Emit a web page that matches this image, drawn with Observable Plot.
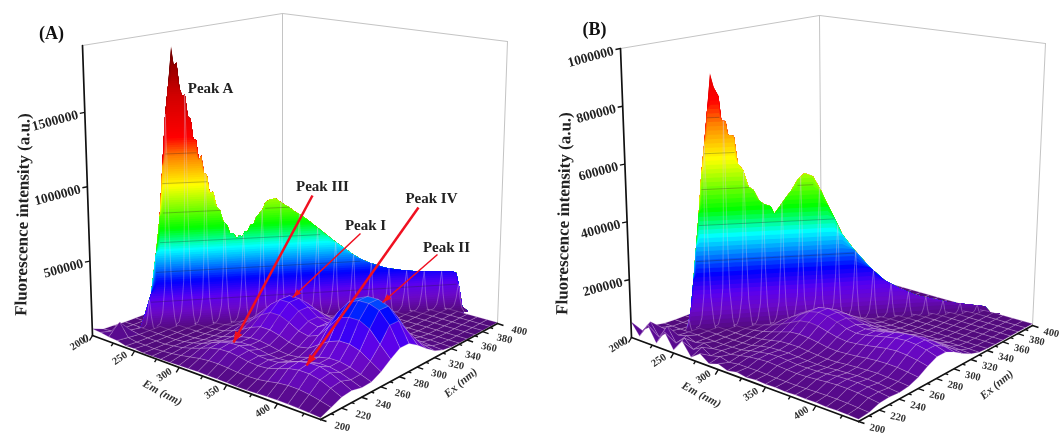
<!DOCTYPE html>
<html><head><meta charset="utf-8">
<script src="https://cdn.jsdelivr.net/npm/d3@7"></script>
<script src="https://cdn.jsdelivr.net/npm/@observablehq/plot@0.6"></script>
<style>html,body{margin:0;padding:0;background:#fff}svg{display:block;filter:blur(.5px)}</style>
</head><body><div id="chart"></div>
<script>
const emGrid=[200,210,220,230,240,250,260,270,280,290,300,310,320,330,340,350,360,370,380,390,400,410,420,430,440];
const exGrid=[200,210,220,230,240,250,260,270,280,290,300,310,320,330,340,350,360,370,380,390,400];
// floor / hump heights in thousands, one row per Ex, one column per Em
const floorA=[
[45,40,30,26,12,14,8,8,9,10,12,14,16,15,14,13,12,13,15,18,20,20,18,15,10],
[16,22,100,18,8,8,6,10,16,25,36,48,55,56,52,46,44,47,57,69,76,75,67,53,37],
[14,10,20,10,7,7,7,15,25,42,63,86,99,102,94,82,78,84,104,126,138,137,122,95,65],
[8,8,8,8,7,7,8,15,27,45,69,94,109,112,103,89,85,91,114,138,152,151,134,105,72],
[8,8,8,8,8,7,8,11,20,35,53,72,85,87,79,67,64,68,87,107,118,118,105,82,57],
[8,8,8,8,8,8,8,11,18,32,51,72,86,86,77,63,57,64,83,106,121,121,108,85,61],
[7,7,7,7,7,7,8,12,22,43,72,106,129,129,112,89,79,92,135,175,200,200,178,135,92],
[7,7,7,7,7,7,7,16,30,62,108,161,196,196,169,133,120,145,220,300,320,320,285,210,140],
[6,6,6,6,6,6,6,6,36,77,137,205,255,255,216,169,152,190,290,370,400,400,375,300,179],
[6,6,6,6,6,6,6,6,8,77,137,205,255,255,216,169,152,190,290,370,400,400,375,300,179],
[6,6,6,6,6,6,6,6,6,6,107,160,195,195,168,132,120,145,220,300,320,320,285,210,139],
[6,6,6,6,6,6,6,6,6,6,6,100,122,122,105,83,76,90,128,165,190,190,170,128,88],
[6,6,6,6,6,6,6,6,6,6,6,6,61,61,54,43,38,43,57,74,86,86,77,61,45],
[6,6,6,6,6,6,6,6,6,6,6,6,6,26,23,19,18,19,25,31,35,35,32,26,20],
[6,6,6,6,6,6,6,6,6,6,6,6,6,6,12,11,10,11,13,15,17,17,16,13,11],
[6,6,6,6,6,6,6,6,6,6,6,6,6,6,6,8,8,8,8,9,9,9,9,8,8],
[6,6,6,6,6,6,6,6,6,6,6,6,6,6,6,6,7,7,7,7,7,7,7,7,7],
[6,6,6,6,6,6,6,6,6,6,6,6,6,6,6,6,6,7,7,7,7,7,7,7,7],
[6,6,6,6,6,6,6,6,6,6,6,6,6,6,6,6,6,6,7,7,7,7,7,7,7],
[6,6,6,6,6,6,6,6,6,6,6,6,6,6,6,6,6,6,6,7,7,7,7,7,7],
[6,6,6,6,6,6,6,6,6,6,6,6,6,6,6,6,6,6,6,6,7,7,7,7,7]];
const floorB=[
[55,15,65,12,60,10,50,8,30,8,18,7,14,8,11,9,10,8,10,9,10,8,9,8,7],
[10,50,8,55,8,35,8,25,8,16,8,13,13,14,13,12,12,12,13,14,15,15,14,12,10],
[14,16,14,10,18,6,14,6,10,8,15,21,25,27,25,23,22,23,26,29,31,31,29,25,21],
[6,6,6,6,6,5,5,5,6,8,16,22,27,29,27,24,24,25,27,31,33,33,31,27,23],
[5,5,5,5,5,5,5,5,6,8,16,22,24,25,23,21,20,21,24,26,28,28,27,23,20],
[5,5,5,5,5,5,5,6,10,14,21,28,30,30,27,24,22,23,26,28,30,31,29,27,24],
[5,5,5,5,5,5,6,10,16,25,35,45,48,46,41,35,33,35,38,42,45,46,45,41,36],
[5,5,5,5,5,5,5,14,24,38,53,69,74,71,62,54,50,53,58,64,69,72,69,63,55],
[5,5,5,5,5,5,5,5,29,48,67,87,94,90,80,68,63,67,74,82,88,91,88,81,70],
[5,5,5,5,5,5,5,5,5,48,67,87,94,90,80,68,63,67,74,82,88,91,88,81,70],
[5,5,5,5,5,5,5,5,5,5,53,69,74,71,62,54,50,53,58,64,69,72,69,63,55],
[5,5,5,5,5,5,5,5,5,5,5,44,47,45,40,34,32,34,37,41,44,45,44,40,35],
[5,5,5,5,5,5,5,5,5,5,5,5,24,24,21,19,17,18,20,22,23,24,23,21,19],
[5,5,5,5,5,5,5,5,5,5,5,5,5,11,10,9,9,9,10,10,11,11,11,10,9],
[5,5,5,5,5,5,5,5,5,5,5,5,5,5,7,7,7,7,7,7,7,7,7,7,7],
[5,5,5,5,5,5,5,5,5,5,5,5,5,5,5,6,6,6,6,6,6,6,6,6,6],
[5,5,5,5,5,5,5,5,5,5,5,5,5,5,5,5,6,6,6,6,6,6,6,6,6],
[5,5,5,5,5,5,5,5,5,5,5,5,5,5,5,5,5,6,6,6,6,6,6,6,6],
[5,5,5,5,5,5,5,5,5,5,5,5,5,5,5,5,5,5,6,6,6,6,6,6,6],
[5,5,5,5,5,5,5,5,5,5,5,5,5,5,5,5,5,5,5,6,6,6,6,6,6],
[5,5,5,5,5,5,5,5,5,5,5,5,5,5,5,5,5,5,5,5,6,6,6,6,6]];
// scatter wall crest along Em = Ex (nm, thousands)
const wallExA=[225,227,231,234,236.3,238.1,239.9,241.7,243.5,244.7,246.1,247.5,248.8,250.1,251.5,252.9,254.2,255.5,256.9,258.1,259.5,260.9,262.3,264.1,265.9,267.7,269.5,271.3,273,274.7,276.5,277.9,279.3,280.7,282,283.7,285.5,286.9,288.3,290.1,291.8,294.5,297.2,299.5,301.7,304.5,307.1,310.5,314.3,317.5,321.2,325.5,330.5,334.5,339.5,343.5,348.5,353.5,357.5,363.5,368.5,375.5,383.5,391.5,396.5,398.5,400.5,402.5,405.5];
const wallA=[30,100,260,531,780,1120,1460,1667,1930,1800,1820,1640,1590,1600,1450,1430,1290,1290,1150,1180,1060,1050,920,930,826,800,720,700,638,640,602,625,611,650,643,690,698,745,764,790,841,860,864,840,821,800,771,745,709,675,636,590,538,500,451,420,388,365,347,330,319,308,300,296,292,280,176,40,8];
const wallExB=[229,231.1,232.9,234.7,236.5,238.3,240.1,241.9,243.7,245.5,247.8,249,251.2,252.3,255.3,257.1,259.8,262.5,265.2,267.8,270.5,274.1,275.9,278.5,282.2,284.9,288.5,292,296.5,301,304.5,308.2,312.5,318.9,327.9,336.5,345.5,354.5,372.5,394.5,398.5,403.5];
const wallB=[20,82,187,303,419,559,663,780,905,854,824,742,735,688,683,586,562,503,490,454,439,431,404,426,460,482,522,542,530,476,427,379,319,264,197,146,113,87,56,32,5,2];
// mesh loop shape across the wall: Em-Ex offset and share of the crest
const loopOffset=[-14,-10,-7,-4,-2,-1,0,1,2,4,7,10,14];
const loopShare=[0,.02,.07,.2,.5,.8,1,.8,.5,.2,.07,.02,0];
const loopEx=[230,240,250,260,270,280,290,300,310,320,330,340,350,360,370,380,390,400];
const contourA=[200,400,600,800,1000,1200];
const contourB=[250,375,500,625,750];
const colorStops=[0,60,130,220,330,430,545,690,870,980,1180,1310,1600,1950];
const colorRange=["#500a78","#5c0a98","#6a08c8","#5a00f0","#0000ff","#0078ff","#00ffff","#00ff00","#a0ff00","#ffff00","#ff8000","#ff0000","#d00000","#6a0000"];
const zTicksA=[500000,1000000,1500000], zTicksB=[200000,400000,600000,800000,1000000];
const emTicks=[200,250,300,350,400], emMinor=[225,275,325,375,425];
const exTicks=[200,220,240,260,280,300,320,340,360,380,400], exMinor=[210,230,250,270,290,310,330,350,370,390];

function homography([[x0,y0],[x1,y1],[x2,y2],[x3,y3]]){
  const dx1=x1-x2,dx2=x3-x2,sx=x0-x1+x2-x3,dy1=y1-y2,dy2=y3-y2,sy=y0-y1+y2-y3;
  const det=dx1*dy2-dx2*dy1,g=(sx*dy2-dx2*sy)/det,h=(dx1*sy-sx*dy1)/det;
  const a=x1-x0+g*x1,b=x3-x0+h*x3,d=y1-y0+g*y1,e=y3-y0+h*y3;
  return (u,v)=>{const w=g*u+h*v+1;return [(a*u+b*v+x0)/w,(d*u+e*v+y0)/w];};
}
function makePanel(o){
  const H0=homography(o.floor),H1=homography(o.top);
  o.project=(em,ex,z)=>{const u=(em-200)/240,v=(ex-200)/200,t=z/o.zTop,p=H0(u,v),q=H1(u,v);
    return [p[0]+t*(q[0]-p[0]),p[1]+t*(q[1]-p[1])];};
  return o;
}
const panels=[
 makePanel({floor:[[92,335],[320,419],[497,323],[282,263]],top:[[82,45],[325,83],[507,41],[282,13]],zTop:1950,gain:1,table:floorA,wallEx:wallExA,wall:wallA,contours:contourA,zTicks:zTicksA,exLabelDx:22}),
 makePanel({floor:[[631,337],[858,421],[1032,325],[821,265]],top:[[620,48],[864,85],[1045,43],[819,15]],zTop:1000,gain:1.62,table:floorB,wallEx:wallExB,wall:wallB,contours:contourB,zTicks:zTicksB,exLabelDx:19})
];
const poly=pts=>({type:"Polygon",coordinates:[[...pts,pts[0]]]});
const lineG=pts=>({type:"LineString",coordinates:pts});
const marks=[];
const gridLine={stroke:"#c4c4c4",strokeWidth:1};
const meshStyle={stroke:"#dcbce4",strokeOpacity:.42,strokeWidth:.6};
function crestAt(p,ex){const i=d3.bisectRight(p.wallEx,ex);if(i<=0)return p.wall[0];if(i>=p.wall.length)return p.wall[p.wall.length-1];
  const t=(ex-p.wallEx[i-1])/(p.wallEx[i]-p.wallEx[i-1]);return p.wall[i-1]+t*(p.wall[i]-p.wall[i-1]);}
const serif="Liberation Serif";
for(const p of panels){
  const P=p.project, Z=p.zTop;
  marks.push(Plot.geo([lineG([P(200,200,Z),P(200,400,Z)]),lineG([P(200,400,Z),P(440,400,Z)])],{geometry:d=>d,...gridLine}));
  marks.push(Plot.geo([lineG([P(200,400,0),P(200,400,Z)]),lineG([P(440,400,0),P(440,400,Z)])],{geometry:d=>d,...gridLine}));
  const cells=[];
  for(let j=0;j<exGrid.length-1;j++)for(let i=0;i<emGrid.length-1;i++){
    const t=p.table,a=t[j][i],b=t[j][i+1],c=t[j+1][i+1],d=t[j+1][i];
    cells.push({key:emGrid[i]-exGrid[j],v:(a+b+c+d)/4*p.gain,geometry:poly([P(emGrid[i],exGrid[j],a),P(emGrid[i+1],exGrid[j],b),P(emGrid[i+1],exGrid[j+1],c),P(emGrid[i],exGrid[j+1],d)])});
  }
  cells.sort((a,b)=>a.key-b.key);
  marks.push(Plot.geo(cells.filter(d=>d.key<0),{geometry:"geometry",fill:"v",...meshStyle}));
  const maxW=d3.max(p.wall);
  const levels=d3.range(Math.ceil(maxW/15)*15,0,-15);
  const bandRows=levels.map(top=>{
    const tops=p.wallEx.map((e,i)=>P(e,e,Math.min(p.wall[i],top)));
    const bottoms=p.wallEx.map(e=>P(e,e,0)).reverse();
    return {v:(top-7.5)*p.gain,geometry:poly([...tops,...bottoms])};
  });
  marks.push(Plot.geo(bandRows,{geometry:"geometry",fill:"v"}));
  const loops=loopEx.filter(e=>e>=p.wallEx[0]&&e<=p.wallEx[p.wallEx.length-1]).map(e=>{const c=crestAt(p,e);return lineG(loopOffset.map((o,k)=>P(e+o,e,Math.max(c*loopShare[k],3))));});
  marks.push(Plot.geo(loops,{geometry:d=>d,stroke:"#e0c8e8",strokeOpacity:.42,strokeWidth:.8}));
  const cont=[];
  for(const lv of p.contours){let run=[];
    p.wallEx.forEach((e,i)=>{if(p.wall[i]>=lv)run.push(P(e,e,lv));else{if(run.length>1)cont.push(lineG(run));run=[];}});
    if(run.length>1)cont.push(lineG(run));}
  marks.push(Plot.geo(cont,{geometry:d=>d,stroke:"#222",strokeOpacity:.42,strokeWidth:.7}));
  marks.push(Plot.geo(cells.filter(d=>d.key>=0),{geometry:"geometry",fill:"v",...meshStyle}));
  marks.push(Plot.geo([lineG([P(200,200,0),P(200,200,Z)]),lineG([P(200,200,0),P(440,200,0)]),lineG([P(440,200,0),P(440,400,0)])],{geometry:d=>d,stroke:"#111",strokeWidth:1.7}));
  const axisTicks=[
    ...p.zTicks.map(z=>{const a=P(200,200,z/1000);return {a,b:[a[0]-5,a[1]+1]};}),
    ...emTicks.map(e=>{const a=P(e,200,0);return {a,b:[a[0]-3,a[1]+5]};}),
    ...emMinor.map(e=>{const a=P(e,200,0);return {a,b:[a[0]-2,a[1]+3]};}),
    ...exTicks.map(e=>{const a=P(440,e,0);return {a,b:[a[0]+6,a[1]+2]};}),
    ...exMinor.map(e=>{const a=P(440,e,0);return {a,b:[a[0]+3,a[1]+1]};})
  ];
  marks.push(Plot.link(axisTicks,{x1:d=>d.a[0],y1:d=>d.a[1],x2:d=>d.b[0],y2:d=>d.b[1],stroke:"#111",strokeWidth:1.4}));
  marks.push(Plot.text(p.zTicks,{x:z=>P(200,200,z/1000)[0]-7,y:z=>P(200,200,z/1000)[1]+2,text:z=>String(z),textAnchor:"end",rotate:-15,fontFamily:serif,fontWeight:"bold",fontSize:13.5,fill:"#222"}));
  marks.push(Plot.text(["0"],{x:()=>P(200,200,0)[0]-7,y:()=>P(200,200,0)[1]+3,text:d=>d,rotate:-13,fontFamily:serif,fontWeight:"bold",fontSize:12,fill:"#222"}));
  marks.push(Plot.text(emTicks,{x:e=>P(e,200,0)[0]-15,y:e=>P(e,200,0)[1]+(e==200?8:7),text:e=>String(e),rotate:-34,fontFamily:serif,fontWeight:"bold",fontSize:10.5,fill:"#333"}));
  marks.push(Plot.text(exTicks,{x:e=>P(440,e,0)[0]+p.exLabelDx,y:e=>P(440,e,0)[1]+7,text:e=>String(e),rotate:12,fontFamily:serif,fontWeight:"bold",fontSize:10.5,fill:"#333"}));
}
const titles=[{t:"(A)",x:51,y:33},{t:"(B)",x:594,y:29}];
const yTitles=[{x:22,y:214},{x:563,y:213}];
const emLabels=[{x:162,y:392},{x:701,y:394}];
const exLabels=[{x:460,y:382},{x:996,y:384}];
const peakLabels=[{t:"Peak A",x:210,y:88},{t:"Peak III",x:322,y:186},{t:"Peak I",x:365,y:225},{t:"Peak IV",x:431,y:198},{t:"Peak II",x:446,y:247}];
const arrows=[{x1:312,y1:195,x2:233,y2:342,w:2.5,h:11,s:4},{x1:418,y1:207,x2:306,y2:365,w:2.5,h:11,s:4},{x1:360,y1:233,x2:292,y2:297,w:1.5,h:9,s:3},{x1:437,y1:254,x2:382,y2:302,w:1.5,h:9,s:3}];
marks.push(Plot.link(arrows,{x1:"x1",y1:"y1",x2:"x2",y2:"y2",stroke:"#f01020",strokeWidth:"w"}));
marks.push(Plot.geo(arrows.map(a=>{const L=Math.hypot(a.x2-a.x1,a.y2-a.y1),ux=(a.x2-a.x1)/L,uy=(a.y2-a.y1)/L,bx=a.x2-ux*a.h,by=a.y2-uy*a.h;
  return poly([[a.x2,a.y2],[bx-uy*a.s,by+ux*a.s],[bx+uy*a.s,by-ux*a.s]]);}),{geometry:d=>d,fill:()=>"#f01020"}));
marks.push(Plot.text(peakLabels,{x:"x",y:"y",text:"t",fontFamily:serif,fontWeight:"bold",fontSize:15,fill:"#222"}));
marks.push(Plot.text(titles,{x:"x",y:"y",text:"t",fontFamily:serif,fontWeight:"bold",fontSize:18,fill:"#111"}));
marks.push(Plot.text(yTitles,{x:"x",y:"y",text:()=>"Fluorescence intensity (a.u.)",rotate:-89,fontFamily:serif,fontWeight:"bold",fontSize:17,fill:"#222"}));
marks.push(Plot.text(emLabels,{x:"x",y:"y",text:()=>"Em (nm)",rotate:28,fontFamily:serif,fontWeight:"bold",fontStyle:"italic",fontSize:11.5,fill:"#333"}));
marks.push(Plot.text(exLabels,{x:"x",y:"y",text:()=>"Ex (nm)",rotate:-40,fontFamily:serif,fontWeight:"bold",fontStyle:"italic",fontSize:11.5,fill:"#333"}));
const chart=Plot.plot({width:1061,height:434,margin:0,projection:d3.geoIdentity(),
  color:{type:"linear",domain:colorStops,range:colorRange},style:{background:"#fff"},marks});
document.getElementById("chart").append(chart);
</script></body></html>
